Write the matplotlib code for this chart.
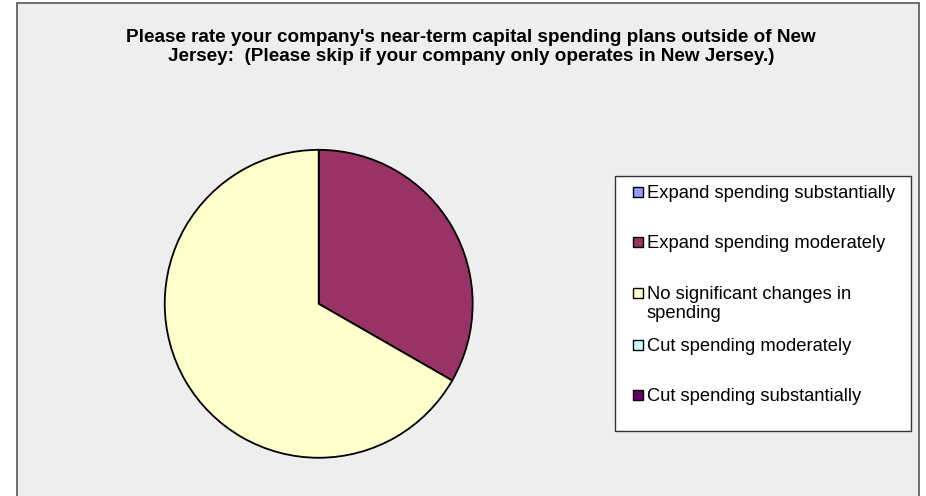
import matplotlib
matplotlib.use('Agg')
import matplotlib.pyplot as plt
from matplotlib.patches import Rectangle

# survey answers (share of respondents, %)
categories = ['Expand spending substantially',
              'Expand spending moderately',
              'No significant changes in\nspending',
              'Cut spending moderately',
              'Cut spending substantially']
values = [0, 33.3, 66.7, 0, 0]
colors = ['#9999FF', '#993366', '#FFFFCC', '#CCFFFF', '#660066']

title = ("Please rate your company's near-term capital spending plans outside of New\n"
         "Jersey:  (Please skip if your company only operates in New Jersey.)")

W, H = 926, 496
DPI = 100

def fx(px):
    return px / W

def fy(py):
    # pixel y from top -> figure fraction from bottom
    return 1 - py / H

plt.rcParams['font.family'] = ['Liberation Sans', 'DejaVu Sans']

fig = plt.figure(figsize=(W / DPI, H / DPI), dpi=DPI, facecolor='white')

# chart area
fig.patches.append(Rectangle((fx(17), fy(510)), fx(919) - fx(17), fy(3) - fy(510),
                             transform=fig.transFigure, facecolor='#EEEEEE',
                             edgecolor='#555555', linewidth=1.2, zorder=-2))

fig.text(fx(471), fy(47), title, ha='center', va='center', fontsize=13.6,
         fontweight='bold', linespacing=1.2)

# pie
cx, cy, r = 318.7, 303.8, 155.5
ax = fig.add_axes([fx(cx - r), fy(cy + r), fx(2 * r), fy(cy - r) - fy(cy + r)])
ax.set_zorder(5)
nz = [(v, c) for v, c in zip(values, colors) if v > 0]
ax.pie([v for v, _ in nz], colors=[c for _, c in nz], startangle=90,
       counterclock=False, radius=1,
       wedgeprops=dict(edgecolor='black', linewidth=1.3))
ax.set_xlim(-1.01, 1.01)
ax.set_ylim(-1.01, 1.01)
ax.set_aspect('equal')
ax.axis('off')

# legend box
fig.patches.append(Rectangle((fx(615), fy(431)), fx(911) - fx(615), fy(176) - fy(431),
                             transform=fig.transFigure, facecolor='white',
                             edgecolor='#333333', linewidth=1.0, zorder=1))

entry_y = [192, 242, 302.5, 345, 395]
for lab, col, y in zip(categories, colors, entry_y):
    ym = y if '\n' not in lab else y - 9.5
    fig.patches.append(Rectangle((fx(633), fy(ym + 5)), fx(10), fy(0) - fy(10),
                                 transform=fig.transFigure, facecolor=col,
                                 edgecolor='black', linewidth=1.0, zorder=2))
    fig.text(fx(647), fy(y + 1.5), lab, ha='left', va='center', fontsize=13.2,
             linespacing=1.16, zorder=3)

fig.savefig('out.png', dpi=DPI, facecolor=fig.get_facecolor())
